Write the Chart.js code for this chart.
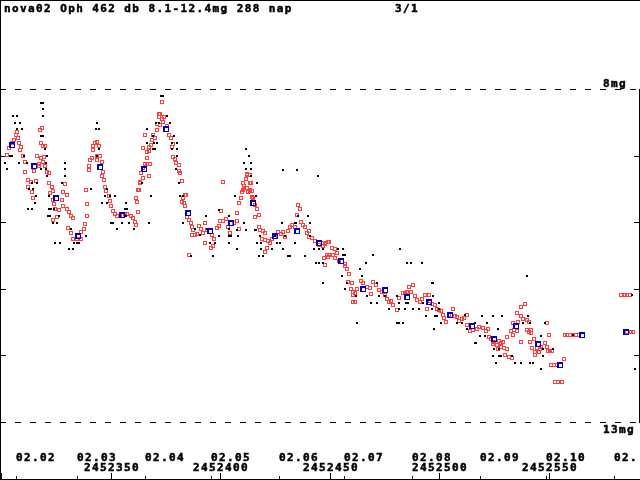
<!DOCTYPE html>
<html>
<head>
<meta charset="utf-8">
<script src="https://cdn.jsdelivr.net/npm/chart.js@4.4.1/dist/chart.umd.min.js"></script>
<style>
  html, body { margin: 0; padding: 0; background: #fff; }
  #lc { display: block; }
</style>
</head>
<body>
<canvas id="lc" width="640" height="480"></canvas>
<script>
// days are JD - 2452300
const JD0 = 2452300;

// visual estimates (red open squares): [day, mag]
const visual = [
  [2.5,8.99],[3.4,8.89],[4.8,8.81],[5.7,8.77],[6.6,8.69],[7.1,8.65],[7.5,8.74],[8.0,8.81],[8.9,8.87],[8.5,8.92],
  [9.8,9.01],[10.7,9.10],[10.7,9.25],[12.1,9.37],[12.1,9.47],[13.5,9.40],[13.9,9.55],[14.4,9.64],[14.8,9.23],[15.8,9.38],
  [16.2,9.01],[17.1,9.13],[17.1,9.16],[18.0,9.04],[19.0,9.10],[19.4,9.02],[19.9,9.16],[20.8,9.25],[21.7,9.26],[18.5,8.59],
  [17.6,8.62],[19.0,8.86],[19.9,8.86],[18.0,8.81],[21.7,9.41],[23.1,9.47],[22.2,9.56],[23.5,9.53],[23.5,9.67],[24.0,9.73],
  [24.4,9.80],[25.3,9.92],[23.5,9.97],[26.3,9.82],[27.6,9.67],[28.1,9.55],[29.0,9.43],[28.1,9.76],[29.9,9.59],[29.9,9.80],
  [30.8,9.85],[31.7,9.91],[32.7,9.94],[30.4,10.09],[31.7,10.16],[32.7,10.25],[34.5,10.25],[36.3,10.25],[36.3,10.15],[37.7,10.10],
  [38.1,10.03],[39.0,9.91],[39.0,9.73],[38.6,9.52],[40.0,9.22],[40.0,9.16],[40.4,9.07],[41.3,9.04],[41.8,8.92],[41.8,8.86],
  [42.7,8.81],[43.6,8.80],[44.5,8.86],[45.0,9.01],[43.6,9.01],[43.6,9.07],[45.9,9.10],[46.4,9.25],[45.9,9.31],[46.8,9.37],
  [47.3,9.47],[47.7,9.53],[49.1,9.61],[49.5,9.68],[50.0,9.76],[50.9,9.83],[51.8,9.88],[52.7,9.91],[54.1,9.91],[56.4,9.89],
  [57.3,9.88],[59.1,9.91],[60.0,9.94],[61.0,10.00],[61.4,10.04],[62.3,9.85],[61.9,9.70],[62.3,9.52],[63.2,9.41],[63.7,9.26],
  [64.6,9.19],[64.6,9.34],[65.5,9.13],[66.4,9.04],[67.4,8.93],[67.4,8.87],[68.3,8.84],[68.7,8.77],[69.2,8.69],[70.1,8.74],
  [71.0,8.62],[71.0,8.53],[71.9,8.42],[71.9,8.38],[65.5,8.69],[67.4,9.31],[67.8,9.13],
  [73.3,8.20],[72.4,8.38],[74.2,8.42],[73.3,8.45],[73.7,8.50],[72.4,8.54],[75.6,8.56],[76.5,8.69],[77.4,8.74],[78.3,8.83],
  [77.9,8.87],[78.3,9.02],[79.2,9.05],[79.7,9.11],[81.1,9.14],[81.1,9.23],[81.5,9.26],[82.4,9.38],[83.8,9.59],[82.9,9.64],
  [82.4,9.70],[83.3,9.71],[101.1,9.40],[66.4,8.95],[64.6,8.89],[66.4,9.13],[63.2,9.40],[62.8,9.52],[61.4,9.64],[109.4,9.64],
  [109.8,9.55],[110.7,9.46],[111.6,9.35],[112.1,9.28],[113.5,9.41],[112.1,9.49],[113.5,9.53],[114.4,9.53],[114.8,9.64],[108.4,9.71],
  [110.3,9.52],
  [84.2,9.59],[83.8,9.76],[84.7,9.92],[85.6,9.97],[86.5,10.01],[87.0,10.07],[87.4,10.12],[87.0,10.19],[88.4,10.19],[89.3,10.18],
  [90.2,10.06],[91.1,10.10],[92.9,10.01],[92.0,10.16],[93.8,10.12],[96.1,10.19],[97.0,10.25],[95.7,10.39],[96.6,10.36],[98.4,10.09],
  [99.3,10.06],[100.2,9.83],[99.8,9.98],[101.1,9.98],[102.5,9.95],[103.4,10.07],[104.3,10.16],[106.2,10.01],[107.5,9.98],[108.4,10.10],
  [107.5,9.86],[110.3,9.41],[110.7,9.49],[112.1,9.29],[113.5,9.29],[112.6,9.55],[113.9,9.41],[113.5,9.52],[114.4,9.62],[115.8,9.74],
  [116.7,9.80],[117.6,9.89],[115.8,9.92],[117.6,10.07],[118.0,10.12],[119.4,10.13],[120.3,10.16],[119.0,10.25],[120.3,10.27],[121.7,10.28],
  [122.6,10.31],[121.2,10.39],[120.3,10.45],[123.5,10.25],[124.9,10.22],[126.3,10.15],[127.6,10.18],[128.5,10.15],[129.5,10.22],[130.8,10.13],
  [131.7,10.07],[132.7,10.04],[134.0,10.07],[134.9,9.89],[135.4,9.74],[136.3,9.80],[136.8,10.00],[137.7,10.04],[138.6,10.07],[139.5,10.16],
  [140.4,10.13],[140.4,10.22],[141.8,10.24],[143.2,10.28],[145.0,10.34],[146.8,10.36],[147.7,10.33],[149.1,10.30],[148.6,10.49],[147.3,10.54],
  [149.1,10.52],[147.7,10.64],[85.6,10.49],[92.9,10.31],
  [146.8,10.31],[147.7,10.31],[149.5,10.30],[150.9,10.39],[152.3,10.40],[153.2,10.46],[151.4,10.49],[149.5,10.49],[152.3,10.54],[154.1,10.58],
  [156.9,10.63],[156.9,10.66],[157.8,10.70],[158.7,10.78],[158.2,10.90],[160.0,10.91],[159.6,11.00],[160.5,11.05],[161.4,11.06],[160.5,11.09],
  [160.5,11.20],[161.4,11.20],[162.3,11.00],[164.2,10.88],[165.1,10.91],[166.9,10.97],[168.3,10.99],[168.7,11.08],[169.6,10.90],[171.0,10.94],
  [172.4,11.02],[173.7,11.05],[175.1,11.09],[176.0,11.15],[176.9,11.20],[177.9,11.18],[178.8,11.24],[180.6,11.32],[181.5,11.14],[183.3,11.06],
  [184.2,11.06],[185.2,11.05],[186.1,10.97],[187.9,10.94],[187.0,11.05],[188.8,11.11],[189.7,11.17],[191.1,11.20],[192.0,11.15],[193.4,11.09],
  [194.3,11.30],[195.2,11.09],[195.7,11.18],[196.6,11.23],[197.9,11.24],[198.9,11.30],[199.8,11.32],[200.7,11.33],[201.6,11.39],[202.1,11.44],
  [203.0,11.50],[204.3,11.39],[206.2,11.30],[207.1,11.41],[208.0,11.42],[208.9,11.48],[210.3,11.45],[211.2,11.44],[212.6,11.39],[212.6,11.54],
  [213.9,11.63],[215.3,11.62],[217.1,11.60],[218.0,11.57],
  [219.9,11.59],[221.2,11.63],[222.1,11.60],[222.6,11.72],[223.5,11.75],[224.9,11.80],[224.4,11.83],[226.3,11.84],[227.2,11.78],[228.1,11.81],
  [229.0,11.80],[228.1,11.87],[229.5,11.89],[230.8,11.90],[226.7,11.90],[229.9,11.99],[231.7,12.02],[233.1,12.04],[230.8,11.72],[232.6,11.63],
  [233.6,11.69],[234.0,11.62],[235.4,11.63],[233.6,11.51],[235.8,11.50],[235.4,11.36],[237.2,11.27],[239.0,11.23],[237.2,11.41],[238.1,11.45],
  [240.0,11.47],[240.9,11.50],[240.0,11.62],[241.8,11.62],[240.9,11.65],[241.8,11.66],[237.2,11.80],[241.3,11.80],[243.1,11.75],[242.2,11.89],
  [243.6,11.95],[244.5,11.89],[246.3,11.87],[245.4,11.95],[243.6,11.99],[245.9,11.90],[248.2,11.81],[249.1,11.87],[249.5,11.93],[250.5,11.93],
  [251.4,11.93],[250.0,11.69],[249.1,11.51],[256.8,12.05],[250.9,12.14],[252.3,12.14],[253.6,12.14],[252.7,12.40],[254.1,12.40],[255.9,12.40],
  [257.3,11.69],[258.2,11.69],[259.6,11.69],[261.0,11.69],[262.3,11.69],[263.7,11.69],[282.9,11.09],[284.7,11.09],[285.6,11.09],[287.0,11.09],
  [285.6,11.65],[287.4,11.65],[288.3,11.65]
];

// other observations (small black dots): [day, mag]
const other = [
  [5.3,8.41],[7.1,8.41],[6.2,8.51],[8.5,8.51],[7.1,8.60],[9.4,8.60],[18.0,8.21],[19.0,8.21],[19.0,8.30],[19.0,8.41],
  [18.0,8.71],[19.0,8.71],[19.9,8.90],[20.8,9.01],[18.0,9.20],[20.3,9.20],[20.3,9.11],[20.8,9.31],[2.5,9.20],[1.6,9.11],
  [3.9,9.01],[4.8,9.01],[10.3,9.01],[11.6,9.11],[8.0,9.11],[13.9,9.41],[16.2,9.41],[12.6,9.50],[14.4,9.50],[15.8,9.61],
  [15.3,9.71],[12.1,9.80],[13.9,9.80],[21.7,9.80],[22.6,9.80],[21.2,9.91],[22.2,9.91],[23.5,10.01],[25.3,10.01],[24.4,10.31],
  [26.7,10.31],[30.8,10.40],[32.7,10.40],[33.1,10.31],[34.5,10.31],[35.4,10.31],[31.7,10.10],[38.6,10.21],[29.0,9.11],[29.0,9.20],
  [29.0,9.31],[27.6,9.41],[24.0,9.80],[26.3,9.91],[21.7,9.61],[43.6,8.51],[43.2,8.60],[44.5,8.60],[44.5,8.90],[43.6,9.01],
  [40.9,9.50],[45.9,9.71],[47.3,9.61],[48.2,9.71],[49.5,9.61],[48.2,9.50],[51.8,9.61],[56.9,9.71],[56.4,9.80],[57.3,9.80],
  [56.9,9.91],[50.0,10.01],[50.9,10.01],[52.7,10.10],[55.0,10.01],[58.2,10.01],[60.5,10.10],[67.4,10.01],[68.3,9.61],[66.4,8.60],
  [69.6,8.81],[70.1,8.90],[71.9,8.51],[72.8,8.11],[73.7,8.11],[70.6,8.51],[76.9,8.51],[75.6,8.41],[69.2,8.71],[71.0,8.81],
  [66.4,8.81],[69.2,8.90],[80.1,8.81],[80.1,8.90],[77.9,8.90],[78.8,8.71],[80.1,9.01],[79.7,9.20],[81.1,9.41],[81.5,9.61],
  [82.9,9.61],[64.2,9.41],[106.6,9.61],[111.6,8.90],[113.0,9.01],[110.7,9.11],[113.9,9.11],[111.6,9.20],[113.9,9.20],[113.9,9.31],
  [116.7,9.41],[116.2,9.61],[77.9,8.81],[128.5,9.22],[134.9,9.22],[144.5,9.31],[99.3,9.82],[93.4,9.91],[82.9,10.01],[103.9,9.91],
  [110.7,10.01],[107.5,10.12],[111.6,10.12],[115.8,10.12],[116.2,10.12],[128.1,10.01],[134.5,10.01],[140.9,10.01],[88.4,10.10],[90.6,10.19],
  [99.3,10.21],[103.9,10.21],[104.8,10.21],[108.0,10.21],[118.0,10.21],[124.9,10.21],[129.5,10.21],[140.9,10.21],[95.2,10.31],[97.5,10.31],
  [103.9,10.31],[116.7,10.31],[118.5,10.31],[125.8,10.31],[127.2,10.31],[134.0,10.31],[142.7,10.40],[145.0,10.40],[146.8,10.40],[107.5,10.40],
  [118.5,10.40],[123.5,10.40],[128.5,10.40],[86.5,10.51],[96.6,10.51],[117.6,10.51],[119.4,10.51],[130.8,10.51],[131.7,10.51],[138.6,10.51],
  [143.6,10.61],[145.0,10.61],[146.8,10.61],[103.9,10.10],[93.8,10.10],[135.4,9.91],[140.0,9.91],[134.0,10.01],
  [153.7,10.40],[155.9,10.40],[155.9,10.49],[156.9,10.49],[169.6,10.49],[182.0,10.40],[166.4,10.61],[163.7,10.70],[185.2,10.61],[187.0,10.61],
  [192.0,10.61],[146.8,10.91],[155.5,10.81],[164.6,10.81],[157.8,10.91],[171.5,10.91],[196.6,10.91],[197.0,10.91],[156.9,11.00],[161.9,11.11],
  [166.9,11.11],[172.4,11.11],[168.7,11.21],[171.5,11.21],[175.1,11.11],[180.6,11.11],[181.5,11.21],[184.7,11.21],[185.6,11.21],[176.9,11.30],
  [181.5,11.30],[184.2,11.30],[187.9,11.30],[190.6,11.30],[192.5,11.21],[197.0,11.11],[196.6,11.30],[199.8,11.21],[199.8,11.30],[193.8,11.41],
  [197.9,11.41],[198.9,11.41],[200.7,11.51],[208.0,11.51],[210.3,11.51],[211.6,11.39],[212.6,11.60],[216.2,11.51],[162.3,11.51],[180.6,11.51],
  [181.5,11.51],[183.3,11.51],[197.5,11.60],[216.2,11.81],
  [240.0,10.81],[219.4,11.41],[224.4,11.41],[228.5,11.41],[240.4,11.41],[221.7,11.51],[238.1,11.51],[241.3,11.51],[248.2,11.51],[226.7,11.60],
  [218.5,11.71],[220.8,11.71],[246.3,11.71],[216.7,11.81],[224.9,11.90],[227.2,11.90],[247.3,11.90],[251.8,11.90],[224.4,12.01],[227.2,12.01],
  [228.1,12.01],[233.1,12.01],[247.3,12.01],[225.8,12.11],[234.5,12.11],[237.2,12.11],[241.3,12.11],[242.7,12.11],[246.3,12.20],[289.3,12.20],
  [287.9,11.09],[261.0,11.69]
];

// 10-day means (blue squares)
const meanDay = [5, 15, 25, 35, 45, 55, 65, 75, 85, 95, 105, 115, 125, 135, 145, 155, 165, 175, 185, 195, 205, 215, 225, 235, 245, 255, 265, 285];
const meanMag = [8.84, 9.16, 9.64, 10.21, 9.17, 9.89, 9.20, 8.60, 9.86, 10.13, 10.01, 9.71, 10.21, 10.13, 10.31, 10.58, 11.00, 11.02, 11.12, 11.20, 11.39, 11.56, 11.75, 11.56, 11.83, 12.14, 11.69, 11.65];

// axis marks
const monthJD = [2452306.5, 2452334.5, 2452365.5, 2452395.5, 2452426.5, 2452456.5, 2452487.5, 2452518.5, 2452548.5, 2452579.5];
const monthLabels = ['02.02', '02.03', '02.04', '02.05', '02.06', '02.07', '02.08', '02.09', '02.10', '02.'];
const jdTicks = [2452300, 2452350, 2452400, 2452450, 2452500, 2452550];
const jdLabels = ['', '2452350', '2452400', '2452450', '2452500', '2452550'];
const magTicks = [9, 10, 11, 12];
const magLimits = [8, 13];
const magLimitLabels = ['8mg', '13mg'];
const titleText = 'nova02 Oph 462 db 8.1-12.4mg 288 nap';
const pageText = '3/1';

const FONT = 'bold 11px "DejaVu Sans Mono", monospace';

const toXY = rows => rows.map(r => ({ x: JD0 + r[0], y: r[1] }));

// small pixel markers, drawn unsmoothed so they stay crisp like the original plot
function marker(size, lt, rb, stroke) {
  const c = document.createElement('canvas');
  c.width = size; c.height = size;
  const g = c.getContext('2d');
  g.fillStyle = stroke;
  g.fillRect(0, 0, size, size);
  if (lt > 0) g.clearRect(lt, lt, size - lt - rb, size - lt - rb);
  return c;
}
const redBox = marker(4, 1, 1, '#ff4040');
const blueBox = marker(6, 2, 1, '#0000c0');
const dot = marker(2, 0, 0, '#000');

function drawText(ctx, s, x, y) {
  ctx.strokeText(s, x, y);
  ctx.fillText(s, x, y);
}

const decor = {
  id: 'decor',
  beforeDatasetsDraw(chart) {
    const { ctx } = chart;
    const xs = chart.scales.x, ys = chart.scales.y;
    ctx.save();
    ctx.strokeStyle = '#000';
    ctx.lineWidth = 1;

    // dashed magnitude limits
    ctx.setLineDash([6, 9]);
    magLimits.forEach(m => {
      const py = Math.round(ys.getPixelForValue(m)) + 0.5;
      ctx.beginPath();
      ctx.moveTo(0, py);
      ctx.lineTo(640, py);
      ctx.stroke();
    });
    ctx.setLineDash([]);

    // frame
    const yTop = Math.round(ys.getPixelForValue(magLimits[0]));
    const yBot = Math.round(ys.getPixelForValue(magLimits[1]));
    ctx.beginPath();
    ctx.moveTo(0.5, 0); ctx.lineTo(0.5, 480);
    ctx.moveTo(0, 0.5); ctx.lineTo(640, 0.5);
    ctx.moveTo(0, 479.5); ctx.lineTo(640, 479.5);
    ctx.moveTo(639.5, yTop); ctx.lineTo(639.5, yBot + 1);
    ctx.stroke();

    // magnitude ticks, both sides
    ctx.beginPath();
    magTicks.forEach(m => {
      const py = Math.round(ys.getPixelForValue(m)) + 0.5;
      ctx.moveTo(0, py); ctx.lineTo(6, py);
      ctx.moveTo(634, py); ctx.lineTo(640, py);
    });
    // time ticks along the bottom
    monthJD.forEach(j => {
      const px = Math.round(xs.getPixelForValue(j)) + 0.5;
      ctx.moveTo(px, 476); ctx.lineTo(px, 480);
    });
    jdTicks.forEach(j => {
      const px = Math.round(xs.getPixelForValue(j)) + 0.5;
      ctx.moveTo(px, 473); ctx.lineTo(px, 480);
    });
    ctx.stroke();

    // texts
    ctx.fillStyle = '#000';
    ctx.lineWidth = 0.5;
    ctx.font = FONT;
    ctx.letterSpacing = '1.4px';
    ctx.textBaseline = 'alphabetic';
    ctx.textAlign = 'left';
    drawText(ctx, titleText, 4, 12);
    drawText(ctx, pageText, 395, 12);

    drawText(ctx, magLimitLabels[0], 603, Math.round(ys.getPixelForValue(magLimits[0])) - 2);
    drawText(ctx, magLimitLabels[1], 603, Math.round(ys.getPixelForValue(magLimits[1])) + 11);

    monthJD.forEach((j, i) => {
      const px = Math.round(xs.getPixelForValue(j));
      drawText(ctx, monthLabels[i], px, 461);
    });
    ctx.textAlign = 'center';
    jdTicks.forEach((j, i) => {
      if (!jdLabels[i]) return;
      const px = Math.round(xs.getPixelForValue(j));
      drawText(ctx, jdLabels[i], px + 1, 471);
    });
    ctx.restore();
    ctx.imageSmoothingEnabled = false;
  }
};

new Chart(document.getElementById('lc'), {
  type: 'scatter',
  data: {
    datasets: [
      {
        label: 'means',
        data: meanDay.map((d, i) => ({ x: JD0 + d, y: meanMag[i] })),
        pointStyle: blueBox,
        order: 1
      },
      {
        label: 'other',
        data: toXY(other),
        pointStyle: dot,
        order: 2
      },
      {
        label: 'visual',
        data: toXY(visual),
        pointStyle: redBox,
        order: 3
      }
    ]
  },
  options: {
    responsive: false,
    devicePixelRatio: 1,
    animation: false,
    events: [],
    layout: { padding: 0, autoPadding: false },
    plugins: { legend: { display: false }, tooltip: { enabled: false } },
    scales: {
      x: { type: 'linear', display: false, min: 2452299.32, max: 2452591.56 },
      y: { type: 'linear', display: false, reverse: true, min: 6.664, max: 13.871 }
    }
  },
  plugins: [decor]
});
</script>
</body>
</html>
